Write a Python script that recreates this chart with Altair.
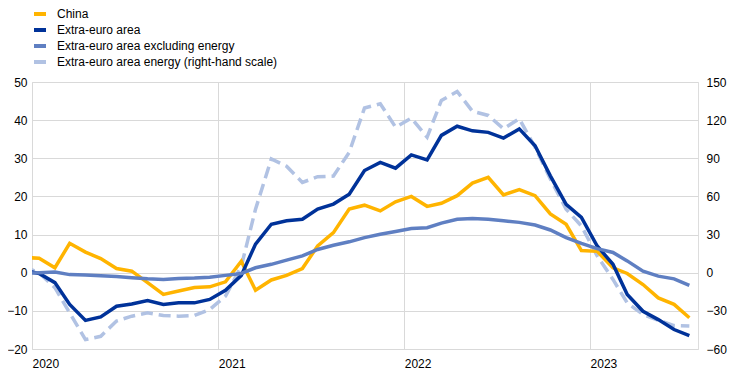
import altair as alt
import pandas as pd

# Monthly observations, Dec 2019 .. Jul 2023 (plotted at mid-month)
first_month = "2019-12-01"
n_months = 44

china = [4.0, 3.8, 1.3, 7.7, 5.4, 3.7, 1.1, 0.4, -2.6, -5.7, -4.8, -3.9, -3.7,
         -2.4, 3.0, -4.6, -1.9, -0.7, 1.1, 7.0, 10.5, 16.7, 17.7, 16.2, 18.6,
         20.0, 17.4, 18.2, 20.2, 23.5, 25.0, 20.4, 21.8, 20.2, 15.4, 12.7, 5.8,
         5.6, 1.3, -0.2, -3.1, -6.6, -8.3, -11.8]
extra_euro = [0.6, -0.2, -2.6, -8.3, -12.5, -11.6, -8.8, -8.2, -7.3, -8.3, -7.9,
              -7.9, -7.0, -4.6, -0.7, 7.5, 12.7, 13.6, 14.0, 16.7, 18.0, 20.6,
              26.8, 28.9, 27.4, 30.9, 29.6, 36.0, 38.4, 37.2, 36.8, 35.3, 37.7,
              33.3, 25.4, 17.9, 14.5, 7.0, 2.2, -5.7, -10.1, -12.3, -14.9, -16.5]
excl_energy = [-0.2, 0.0, 0.2, -0.5, -0.6, -0.8, -1.0, -1.3, -1.6, -1.8, -1.5,
               -1.4, -1.2, -0.7, -0.2, 1.3, 2.2, 3.3, 4.4, 6.1, 7.2, 8.1, 9.2,
               10.1, 10.8, 11.6, 11.8, 13.0, 14.0, 14.2, 14.0, 13.6, 13.2, 12.5,
               11.2, 9.2, 7.7, 6.3, 5.3, 3.1, 0.4, -0.9, -1.6, -3.3]
energy = [5.0, 0.0, -11.8, -31.6, -52.6, -50.0, -38.0, -34.2, -31.6, -33.7, -34.2,
          -33.7, -28.9, -18.4, 5.0, 50.0, 89.5, 83.7, 71.0, 75.5, 76.0, 94.7,
          129.5, 132.9, 114.5, 121.6, 106.6, 135.5, 142.6, 127.0, 123.7, 113.2,
          121.1, 98.7, 73.7, 50.0, 36.8, 13.2, -5.3, -23.7, -32.9, -37.4, -41.6,
          -42.0]

series_names = ["China", "Extra-euro area", "Extra-euro area excluding energy",
                "Extra-euro area energy (right-hand scale)"]
series_colors = ["#FFB400", "#003299", "#5F7FC2", "#B1C2E3"]

left_ticks = [-20, -10, 0, 10, 20, 30, 40, 50]
right_ticks = [-60, -30, 0, 30, 60, 90, 120, 150]
year_ticks = [2020, 2021, 2022, 2023]

dates = pd.to_datetime([pd.Timestamp(d.year, d.month, 15) for d in
                        pd.date_range(first_month, periods=n_months, freq="MS")])

left_df = pd.concat([
    pd.DataFrame({"date": dates, "value": china, "series": series_names[0]}),
    pd.DataFrame({"date": dates, "value": extra_euro, "series": series_names[1]}),
    pd.DataFrame({"date": dates, "value": excl_energy, "series": series_names[2]}),
])
right_df = pd.DataFrame({"date": dates, "value": energy, "series": series_names[3]})

FONT = "Liberation Sans"
GRID = "#d9d9d9"

x_enc = alt.X(
    "date:T",
    scale=alt.Scale(domain=[alt.DateTime(year=2020, month=1, date=1),
                            alt.DateTime(year=2023, month=8, date=1)]),
    axis=alt.Axis(
        title=None,
        values=[alt.DateTime(year=y, month=1, date=1) for y in year_ticks],
        format="%Y", labelAlign="left", labelBaseline="alphabetic",
        labelPadding=18, ticks=False,
        domain=False, grid=True, gridColor=GRID, labelFont=FONT,
        labelFontSize=12, labelColor="#000000",
    ),
)

color_enc = alt.Color(
    "series:N",
    scale=alt.Scale(domain=series_names, range=series_colors),
    legend=alt.Legend(
        title=None, orient="none", legendX=0, legendY=-76, direction="vertical",
        symbolType="stroke", symbolStrokeWidth=4, symbolSize=144,
        labelFont=FONT, labelFontSize=12, labelColor="#000000",
        labelOffset=9, rowPadding=0, padding=0, symbolDash=[1, 0],
        labelLimit=500,
    ),
    sort=series_names,
)

energy_layer = alt.Chart(right_df).mark_line(
    clip=True, strokeWidth=3.5, strokeDash=[12, 6]
).encode(
    x=x_enc,
    y=alt.Y("value:Q",
            scale=alt.Scale(domain=[-60, 150], nice=False, zero=False),
            axis=alt.Axis(title=None, orient="right", values=right_ticks,
                          grid=False, ticks=False, domain=False,
                          labelPadding=8, labelFont=FONT, labelFontSize=12,
                          labelColor="#000000")),
    color=color_enc,
)

left_layer = alt.Chart(left_df).mark_line(clip=True, strokeWidth=3.5).encode(
    x=x_enc,
    y=alt.Y("value:Q",
            scale=alt.Scale(domain=[-20, 50], nice=False, zero=False),
            axis=alt.Axis(title=None, orient="left", values=left_ticks,
                          grid=True, gridColor=GRID, ticks=False, domain=False,
                          labelPadding=5, labelFont=FONT, labelFontSize=12,
                          labelColor="#000000")),
    color=color_enc,
    order=alt.Order("series:N"),
)

chart = alt.layer(energy_layer, left_layer).resolve_scale(
    y="independent"
).properties(
    width=666, height=267,
    autosize=alt.AutoSizeParams(type="none"),
    padding={"left": 24, "top": 74, "right": 30, "bottom": 20},
).configure_view(stroke=GRID, strokeWidth=1).configure(background="white")

chart.save("out.html", embed_options={"renderer": "svg", "actions": False})
